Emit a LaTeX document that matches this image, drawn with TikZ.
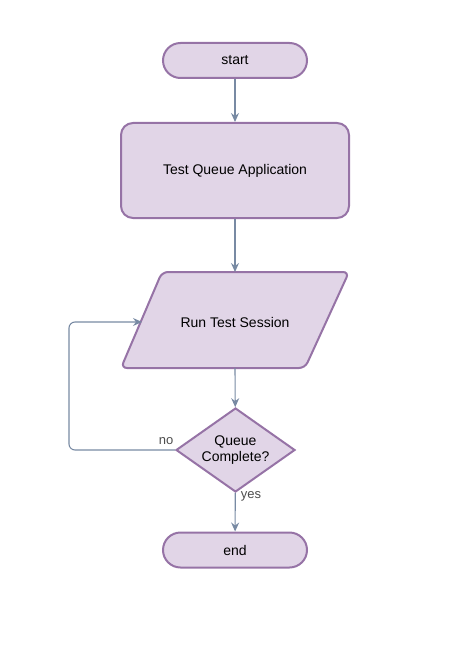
\documentclass[tikz,border=0pt]{standalone}
\usepackage{fontspec}
\setmainfont{Liberation Sans}
\usetikzlibrary{shapes.geometric,arrows.meta}
\definecolor{pfill}{HTML}{E1D5E7}
\definecolor{pline}{HTML}{9673A6}
\definecolor{cline}{HTML}{788AA3}
\definecolor{lbl}{HTML}{4D4D4D}
\begin{document}
\begin{tikzpicture}[x=1pt,y=-1pt,
  shapebase/.style={draw=pline,fill=pfill,line width=2pt,font=\fontsize{14}{16}\selectfont,text=black,inner sep=0pt,align=center},
  terminal/.style={shapebase,rectangle,rounded corners=17.5pt,minimum width=144pt,minimum height=35pt},
  procbox/.style={shapebase,rectangle,rounded corners=12pt,minimum width=228pt,minimum height=95pt},
  decide/.style={shapebase,diamond,aspect=1.42,minimum width=119pt,minimum height=84pt},
  conn/.style={draw=cline,line width=1.1pt,-{Stealth[length=9pt,width=8pt,inset=3pt]}},
  elabel/.style={font=\fontsize{13}{15}\selectfont,text=lbl,inner sep=0pt}
]
\useasboundingbox (0,0) rectangle (456,660);
\node[terminal] (start) at (235,60.5) {start};
\node[procbox] (tqa) at (235,170.5) {Test Queue Application};
% parallelogram
\coordinate (pa) at (162,272);
\coordinate (pb) at (349,272);
\coordinate (pc) at (305,368);
\coordinate (pd) at (121,368);
\draw[draw=pline,fill=pfill,line width=2pt,rounded corners=6pt] (pa) -- (pb) -- (pc) -- (pd) -- cycle;
\node[font=\fontsize{14}{16}\selectfont,inner sep=0pt] (run) at (235,322) {Run Test Session};
\coordinate (runtop) at (235,272);
\coordinate (runbot) at (235,368);
\coordinate (runleft) at (142,322);
\node[decide] (dec) at (235.5,450) {Queue\\Complete?};
\node[terminal] (end) at (235,550) {end};
\draw[conn] (start) -- (tqa);
\draw[conn] (tqa) -- (runtop);
\draw[conn] (runbot) -- (dec);
\draw[conn] (dec) -- (end);
\draw[conn,rounded corners=6pt] (dec.west) -- (69,450) -- (69,322) -- (runleft);
\node[elabel] (no) at (166,441) {no};
\node[elabel] (yes) at (251,496) {yes};
\end{tikzpicture}
\end{document}
